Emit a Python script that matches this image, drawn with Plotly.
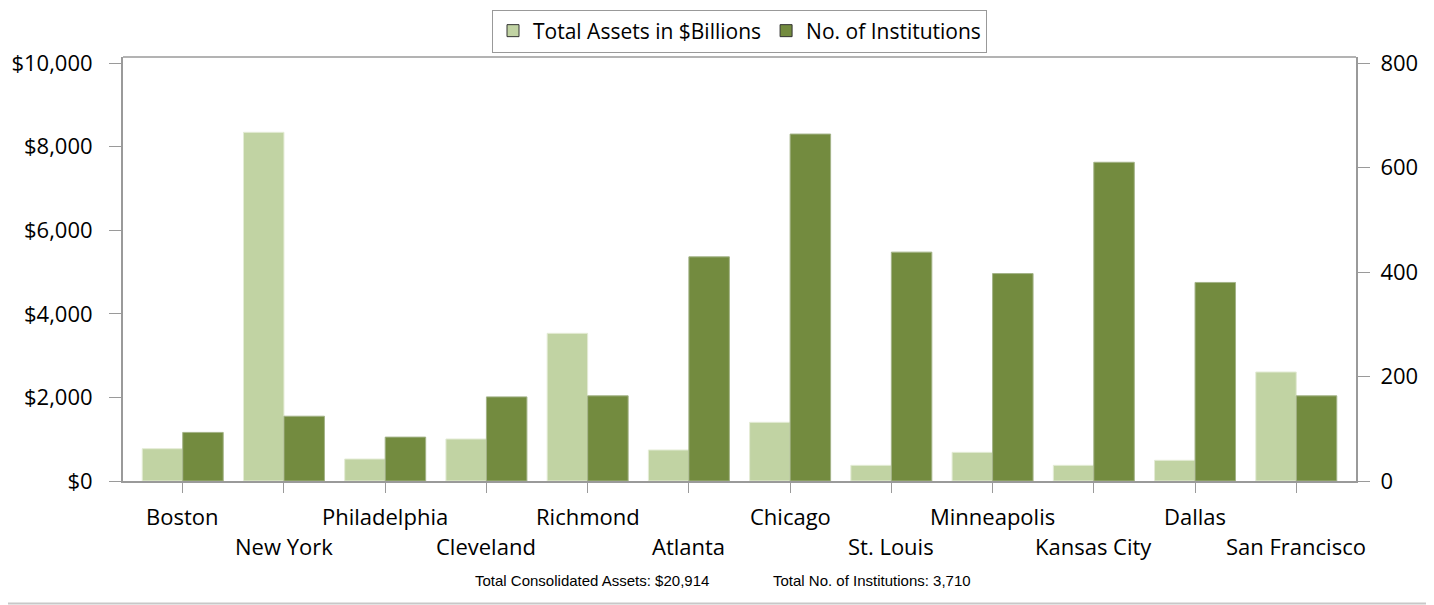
import plotly.graph_objects as go

districts = ["Boston", "New York", "Philadelphia", "Cleveland", "Richmond", "Atlanta",
             "Chicago", "St. Louis", "Minneapolis", "Kansas City", "Dallas", "San Francisco"]
total_assets = [773, 8342, 526, 1005, 3533, 742, 1404, 375, 686, 375, 495, 2608]
num_institutions = [93, 124, 84, 161, 163, 429, 664, 438, 397, 610, 380, 163]
left_ticks = [0, 2000, 4000, 6000, 8000, 10000]
right_ticks = [0, 200, 400, 600, 800]
series_names = ["Total Assets in $Billions", "No. of Institutions"]

LIGHT = "#C1D3A3"
DARK = "#738B3F"
AXIS = "#9a9a9a"
FONT = "Open Sans"

fig = go.Figure()
fig.add_trace(go.Bar(x=districts, y=total_assets, name=series_names[0], showlegend=False,
                     marker=dict(color=LIGHT, line=dict(color="#E4ECD6", width=1)),
                     offsetgroup="a", yaxis="y"))
fig.add_trace(go.Bar(x=districts, y=num_institutions, name=series_names[1], showlegend=False,
                     marker=dict(color=DARK, line=dict(color="#A3B387", width=1)),
                     offsetgroup="b", yaxis="y2"))
# legend entries (swatches with dark outline, as in the reference)
fig.add_trace(go.Bar(x=[None], y=[None], name=series_names[0], offsetgroup="a",
                     marker=dict(color=LIGHT, line=dict(color="#333333", width=1))))
fig.add_trace(go.Bar(x=[None], y=[None], name=series_names[1], offsetgroup="b", yaxis="y2",
                     marker=dict(color=DARK, line=dict(color="#333333", width=1))))

# the page body adds an 8px margin, so the figure is 8px smaller and margins shifted
BODY = 8
ML, MT, MR, MB = 123 - BODY, 57 - BODY, 78, 124
PW = 1233.0
PH = 424.0
annotations = []
for i, d in enumerate(districts):
    annotations.append(dict(x=d, y=0, xref="x", yref="y", text=d, showarrow=False,
                            yanchor="middle", xanchor="center",
                            yshift=-35 if i % 2 == 0 else -65,
                            font=dict(family=FONT, size=22, color="#000000")))
annotations.append(dict(x=(592 - 123) / PW, y=(481 - 580) / PH, xref="paper", yref="paper",
                        text="Total Consolidated Assets: $20,914", showarrow=False,
                        xanchor="center", yanchor="middle",
                        font=dict(family="Liberation Sans", size=15, color="#000000")))
annotations.append(dict(x=(872 - 123) / PW, y=(481 - 580) / PH, xref="paper", yref="paper",
                        text="Total No. of Institutions: 3,710", showarrow=False,
                        xanchor="center", yanchor="middle",
                        font=dict(family="Liberation Sans", size=15, color="#000000")))

fig.update_layout(
    width=1434 - BODY, height=605 - BODY,
    margin=dict(l=ML, r=MR, t=MT, b=MB, autoexpand=False),
    paper_bgcolor="white", plot_bgcolor="white",
    barmode="group", bargap=0.2, bargroupgap=0,
    font=dict(family=FONT, size=22, color="#000000"),
    legend=dict(orientation="h", x=0.5, xanchor="center", y=(481 - 9.5) / PH,
                yanchor="top",
                bordercolor="#999999", borderwidth=1, bgcolor="white",
                font=dict(family=FONT, size=21, color="#000000"),
                traceorder="normal"),
    xaxis=dict(type="category", range=[-0.59, 11.59], showline=True, linecolor=AXIS,
               linewidth=2, ticks="outside", ticklen=10, tickcolor=AXIS, tickwidth=1,
               showticklabels=False, showgrid=False, zeroline=False),
    yaxis=dict(range=[0, 10000 * PH / 418], tickvals=left_ticks,
               ticktext=["$" + format(v, ",") for v in left_ticks],
               showline=True, linecolor=AXIS, linewidth=2, ticks="outside", ticklen=12,
               tickcolor=AXIS, tickwidth=1, showgrid=False, zeroline=False,
               ticklabelstandoff=12, tickfont=dict(family=FONT, size=22, color="#000000")),
    yaxis2=dict(range=[0, 800 * PH / 418], tickvals=right_ticks, overlaying="y", side="right",
                showline=True, linecolor=AXIS, linewidth=2, ticks="outside", ticklen=12,
                tickcolor=AXIS, tickwidth=1, showgrid=False, zeroline=False,
                ticklabelstandoff=6, tickfont=dict(family=FONT, size=22, color="#000000")),
    annotations=annotations,
    shapes=[
        dict(type="line", xref="paper", yref="paper", x0=0, x1=1, y0=1, y1=1,
             line=dict(color="#b3b3b3", width=2)),
        dict(type="line", xref="paper", yref="paper", x0=-ML / PW, x1=1 + MR / PW,
             y0=(481 - 603.5) / PH, y1=(481 - 603.5) / PH,
             line=dict(color="#c8c8c8", width=2)),
    ],
)

fig.write_html("out.html")
